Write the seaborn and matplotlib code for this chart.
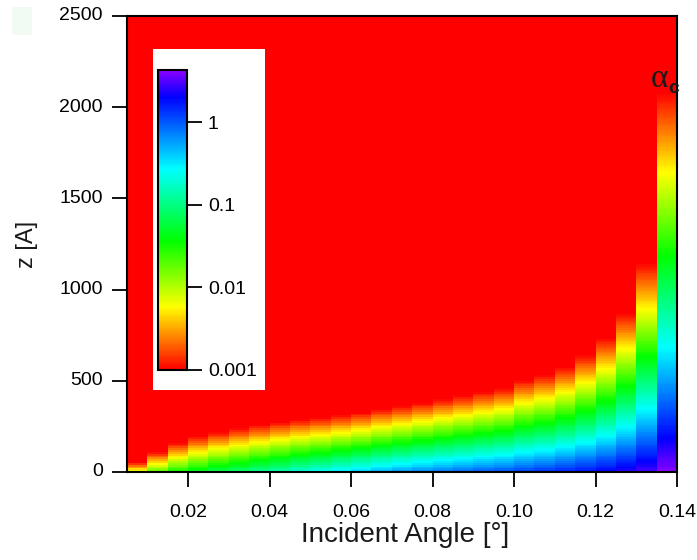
import numpy as np
import pandas as pd
import seaborn as sns
import matplotlib.pyplot as plt
from matplotlib.colors import LogNorm, LinearSegmentedColormap
from matplotlib.ticker import NullLocator
from matplotlib.patches import Rectangle

# incident angle of each column (centre, degrees), columns are 0.005 wide
angle_centers = [0.0075, 0.0125, 0.0175, 0.0225, 0.0275, 0.0325, 0.0375, 0.0425, 0.0475,
                 0.0525, 0.0575, 0.0625, 0.0675, 0.0725, 0.0775, 0.0825, 0.0875, 0.0925,
                 0.0975, 0.1025, 0.1075, 0.1125, 0.1175, 0.1225, 0.1275, 0.1325, 0.1375]
surface_intensity = [0.008, 0.02, 0.035, 0.05, 0.07, 0.09, 0.12, 0.15, 0.2,
                     0.25, 0.32, 0.4, 0.5, 0.6, 0.7, 0.8, 0.9, 1.0,
                     1.1, 1.25, 1.4, 1.6, 1.8, 2.1, 2.5, 3.0, 4.2]
# depth [A] where the column turns back to red (intensity ~0.001)
depth_red = [55, 110, 160, 195, 220, 240, 258, 275, 288,
             298, 312, 326, 345, 362, 380, 400, 418, 440,
             460, 504, 532, 576, 641, 735, 872, 1146, 2083]

xticks = [0.02, 0.04, 0.06, 0.08, 0.10, 0.12, 0.14]
xtick_labels = ["0.02", "0.04", "0.06", "0.08", "0.10", "0.12", "0.14"]
yticks = [0, 500, 1000, 1500, 2000, 2500]
cbar_ticks = [0.001, 0.01, 0.1, 1]
cbar_labels = ["0.001", "0.01", "0.1", "1"]

sns.set_style("ticks")
plt.rcParams["font.family"] = ["Liberation Sans", "DejaVu Sans"]

# intensity falls off exponentially with depth in every column
z = np.arange(5, 2500, 10)
cols = {}
for a, i0, zr in zip(angle_centers, surface_intensity, depth_red):
    cols[a] = i0 * (1e-3 / i0) ** (z / zr)
df = pd.DataFrame(cols, index=z)

cmap = LinearSegmentedColormap.from_list("rainbow_igor", [
    (0.0, "#ff0000"), (0.21, "#ffff00"), (0.43, "#00ff00"),
    (0.67, "#00ffff"), (0.91, "#0000ff"), (1.0, "#8a00ff")])

W, H = 697, 560
fig = plt.figure(figsize=(W / 100, H / 100), dpi=100)
fig.add_artist(Rectangle((12 / W, 1 - 35 / H), 20 / W, 28 / H,
                         transform=fig.transFigure, color="#f1fbf4", lw=0))
ax = fig.add_axes([127 / W, 1 - 472 / H, 550 / W, 456 / H])
box = fig.add_axes([153 / W, 1 - 390 / H, 112 / W, 341 / H])
box.set_xticks([])
box.set_yticks([])
for s in box.spines.values():
    s.set_visible(False)
box.set_facecolor("white")
cax = fig.add_axes([158 / W, 1 - 370 / H, 29 / W, 300 / H])

sns.heatmap(df, ax=ax, cmap=cmap, norm=LogNorm(vmin=1e-3, vmax=4.3), cbar_ax=cax)
ax.invert_yaxis()

ax.set_xticks([(t - 0.005) / 0.005 for t in xticks])
ax.set_xticklabels(xtick_labels, rotation=0)
ax.set_yticks([t / 10 for t in yticks])
ax.set_yticklabels([str(t) for t in yticks], rotation=0)
for s in ax.spines.values():
    s.set_visible(True)
    s.set_color("black")
    s.set_linewidth(1.5)
ax.tick_params(axis="x", bottom=True, direction="out", length=11, width=1.3,
               labelsize=14, pad=12, colors="black")
ax.tick_params(axis="y", left=True, direction="out", length=11, width=1.3,
               labelsize=14, pad=6.5, colors="black")

ax.set_xlabel("Incident Angle [°]", fontsize=20, color="#1a1a1a")
ax.set_ylabel("z [A]", fontsize=17, color="#1a1a1a")
ax.xaxis.set_label_coords(0.505, -0.11)
ax.yaxis.set_label_coords(-0.162, 0.5)

# critical angle marker: serif alpha with a sans subscript c
ax.text((0.1336 - 0.005) / 0.005, 2155 / 10, "α", fontsize=24, family="Liberation Serif",
        ha="left", va="center", color="#1a1a1a")
ax.text((0.1393 - 0.005) / 0.005, 2100 / 10, "c", fontsize=14, fontweight="bold",
        ha="center", va="center", color="#1a1a1a")

cb = ax.collections[0].colorbar
cb.outline.set_linewidth(1.5)
cb.outline.set_edgecolor("black")
cb.set_ticks(cbar_ticks, labels=cbar_labels)
cax.yaxis.set_minor_locator(NullLocator())
cax.tick_params(length=11, width=1.3, labelsize=14, pad=4, colors="black")

fig.savefig("out.png", dpi=100)
